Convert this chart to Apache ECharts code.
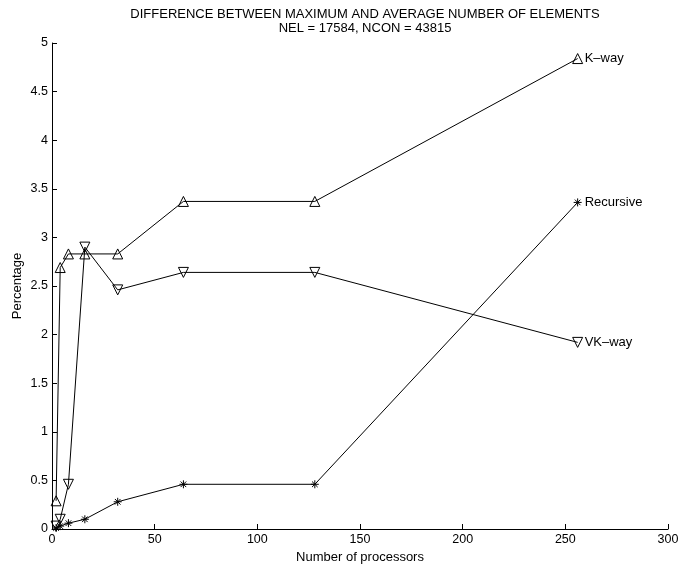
<!DOCTYPE html>
<html>
<head>
<meta charset="utf-8">
<script src="https://cdn.jsdelivr.net/npm/echarts@6/dist/echarts.min.js"></script>
<style>html,body{margin:0;padding:0;background:#fff}#c{width:678px;height:569px}</style>
</head>
<body>
<div id="c"></div>
<script>
const titleLines = ['DIFFERENCE BETWEEN MAXIMUM AND AVERAGE NUMBER OF ELEMENTS', 'NEL = 17584, NCON = 43815'];
const xAxisName = 'Number of processors';
const yAxisName = 'Percentage';
const processors = [2, 4, 8, 16, 32, 64, 128, 256];
const kway = [0.29, 2.69, 2.83, 2.83, 2.83, 3.37, 3.37, 4.84];
const vkway = [0.03, 0.10, 0.46, 2.90, 2.46, 2.64, 2.64, 1.92];
const recursive = [0.01, 0.03, 0.06, 0.10, 0.28, 0.46, 0.46, 3.36];
const seriesNames = ['K\u2013way', 'Recursive', 'VK\u2013way'];

const FONT = 'Liberation Sans, Arial, Helvetica, sans-serif';
const chart = echarts.init(document.getElementById('c'), null, {renderer: 'canvas'});
const pair = arr => processors.map((x, i) => [x, arr[i]]);
const asterisk = 'path://M5,0L5,10M0,5L10,5M1.5,1.5L8.5,8.5M1.5,8.5L8.5,1.5';

function mk(name, arr, symbol, rotate, size) {
  return {
    type: 'line', name: name, data: pair(arr),
    symbol: symbol, symbolSize: size, symbolRotate: rotate, showAllSymbol: true,
    lineStyle: {color: '#000', width: 1},
    itemStyle: {color: 'rgba(0,0,0,0)', borderColor: '#000', borderWidth: 1},
    endLabel: {show: true, formatter: '{a}', distance: 7, color: '#000', fontSize: 13, fontFamily: FONT},
    emphasis: {disabled: true}, animation: false
  };
}

chart.setOption({
  animation: false,
  title: {
    text: titleLines.join('\n'), left: 360, top: 2, textAlign: 'center',
    textStyle: {fontSize: 13, fontWeight: 'normal', color: '#000', fontFamily: FONT, lineHeight: 14}
  },
  grid: {left: 52, right: 10, top: 43, bottom: 40, containLabel: false, outerBoundsMode: 'none'},
  xAxis: {
    type: 'value', min: 0, max: 300, interval: 50,
    name: xAxisName, nameLocation: 'middle', nameGap: 21,
    nameTextStyle: {fontSize: 13, color: '#000', fontFamily: FONT},
    axisLine: {lineStyle: {color: '#000', width: 1}},
    axisTick: {inside: true, length: 5, lineStyle: {color: '#000'}},
    axisLabel: {fontSize: 12.5, color: '#000', fontFamily: FONT, margin: 4},
    splitLine: {show: false}
  },
  yAxis: {
    type: 'value', min: 0, max: 5, interval: 0.5,
    name: yAxisName, nameLocation: 'middle', nameGap: 28, nameMoveOverlap: false,
    nameTextStyle: {fontSize: 13, color: '#000', fontFamily: FONT},
    axisLine: {show: true, lineStyle: {color: '#000', width: 1}},
    axisTick: {show: true, inside: true, length: 5, lineStyle: {color: '#000'}},
    axisLabel: {fontSize: 12.5, color: '#000', fontFamily: FONT, margin: 4},
    splitLine: {show: false}
  },
  series: [
    mk(seriesNames[0], kway, 'triangle', 0, 10),
    mk(seriesNames[1], recursive, asterisk, 0, 8),
    mk(seriesNames[2], vkway, 'triangle', 180, 10)
  ]
});
</script>
</body>
</html>
